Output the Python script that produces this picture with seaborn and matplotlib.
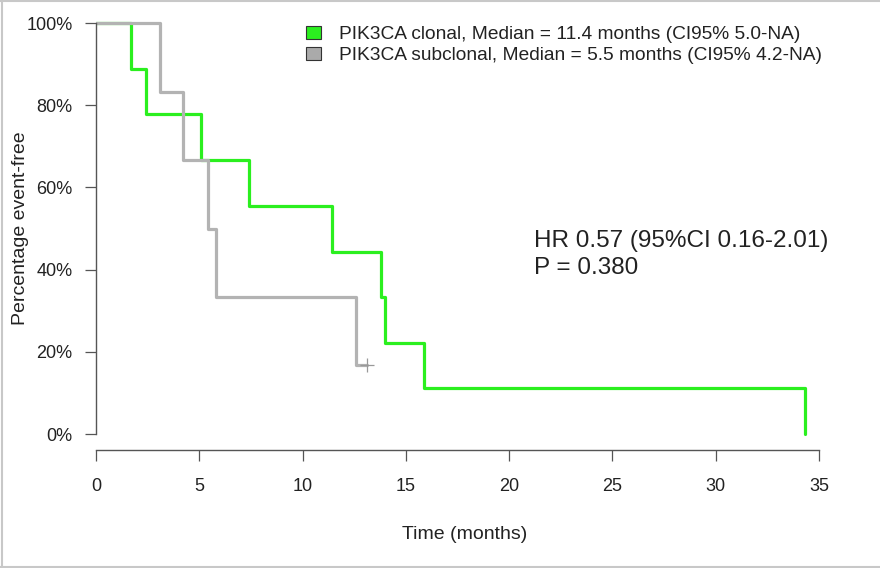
import matplotlib
matplotlib.use("Agg")
import matplotlib.pyplot as plt
from matplotlib.patches import Patch
from matplotlib.lines import Line2D
import seaborn as sns
import pandas as pd

# Kaplan-Meier step points (months, % event-free)
clonal_time = [0, 1.7, 2.4, 5.1, 7.4, 11.4, 13.8, 14.0, 15.9, 34.3]
clonal_surv = [100, 88.9, 77.8, 66.7, 55.6, 44.4, 33.3, 22.2, 11.1, 0]
subclonal_time = [0, 3.1, 4.2, 5.4, 5.8, 12.6, 13.1]
subclonal_surv = [100, 83.3, 66.7, 50.0, 33.3, 16.7, 16.7]
censor_time = [13.1]
censor_surv = [16.7]

group_names = ["PIK3CA clonal", "PIK3CA subclonal"]
legend_labels = ["PIK3CA clonal, Median = 11.4 months (CI95% 5.0-NA)",
                 "PIK3CA subclonal, Median = 5.5 months (CI95% 4.2-NA)"]
x_ticks = [0, 5, 10, 15, 20, 25, 30, 35]
y_ticks = [0, 20, 40, 60, 80, 100]
y_tick_labels = ["0%", "20%", "40%", "60%", "80%", "100%"]
stats_lines = ["HR 0.57 (95%CI 0.16-2.01)", "P = 0.380"]

green = "#2bef1f"
grey = "#b3b3b3"
axis_col = "#555555"
text_col = "#222222"

df = pd.concat([
    pd.DataFrame({"time": clonal_time, "surv": clonal_surv, "group": group_names[0]}),
    pd.DataFrame({"time": subclonal_time, "surv": subclonal_surv, "group": group_names[1]}),
])
censor = pd.DataFrame({"time": censor_time, "surv": censor_surv})

sns.set_style("white")
plt.rcParams["font.family"] = ["Liberation Sans", "DejaVu Sans"]

fig = plt.figure(figsize=(8.8, 5.68), dpi=100)
ax = fig.add_axes([0.10909, 0.20687, 0.8369, 0.78151])

sns.lineplot(data=df, x="time", y="surv", hue="group", palette={group_names[0]: green, group_names[1]: grey},
             drawstyle="steps-post", estimator=None, sort=False, linewidth=2.3, legend=False, ax=ax)
sns.scatterplot(data=censor, x="time", y="surv", marker="+", s=90, color="#999999",
                linewidth=0.9, legend=False, ax=ax, zorder=3)

ax.set_xlim(0, 35.65)
ax.set_ylim(-4, 104)
ax.set_xticks(x_ticks)
ax.set_xticklabels([str(t) for t in x_ticks])
ax.set_yticks(y_ticks)
ax.set_yticklabels(y_tick_labels)

for side in ["top", "right"]:
    ax.spines[side].set_visible(False)
for side in ["left", "bottom"]:
    ax.spines[side].set_color(axis_col)
    ax.spines[side].set_linewidth(1.0)
ax.spines["left"].set_bounds(0, 100)
ax.spines["bottom"].set_bounds(0, 35)
ax.spines["bottom"].set_position(("data", -4))

ax.tick_params(axis="both", direction="out", length=8, width=0.9, color=axis_col,
               labelsize=13, labelcolor=text_col)
ax.tick_params(axis="x", bottom=True, pad=12)
ax.tick_params(axis="y", left=True, pad=9)

ax.set_xlabel("Time (months)", fontsize=14, color=text_col)
ax.set_ylabel("Percentage event-free", fontsize=14, color=text_col)
ax.xaxis.set_label_coords(0.5, -0.1707)
ax.yaxis.set_label_coords(-0.0915, 0.5)

handles = [Patch(facecolor=green, edgecolor="#333333", linewidth=0.8),
           Patch(facecolor="#aaaaaa", edgecolor="#333333", linewidth=0.8)]
ax.legend(handles, legend_labels, loc="upper left", bbox_to_anchor=(0.3477, 0.954),
          bbox_transform=fig.transFigure, frameon=False, fontsize=13.8,
          handlelength=0.76, handleheight=0.64, handletextpad=0.97,
          labelspacing=0.2, borderpad=0, borderaxespad=0, labelcolor=text_col)

fig.text(534 / 880, 1 - 246.5 / 568, stats_lines[0], fontsize=17.5, color=text_col, va="baseline")
fig.text(534 / 880, 1 - 274 / 568, stats_lines[1], fontsize=17.5, color=text_col, va="baseline")

# light frame on left, top and bottom of the image
frame_col = "#c8c8c8"
fig.add_artist(Line2D([1.5 / 880, 1.5 / 880], [0, 1], transform=fig.transFigure, color=frame_col, lw=1.5))
fig.add_artist(Line2D([0, 1], [1 - 0.8 / 568, 1 - 0.8 / 568], transform=fig.transFigure, color=frame_col, lw=1.5))
fig.add_artist(Line2D([0, 1], [1.2 / 568, 1.2 / 568], transform=fig.transFigure, color=frame_col, lw=1.5))

fig.savefig("out.png", dpi=100)
